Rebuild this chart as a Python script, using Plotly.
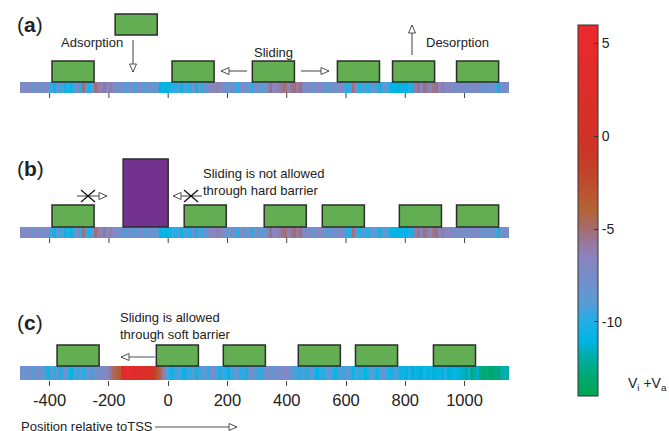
import plotly.graph_objects as go

W, H = 669, 431

# ---------------- data ----------------
bin_start = -500
bin_size = 10
tick_vals = [-400, -200, 0, 200, 400, 600, 800, 1000]
tick_text = ["-400", "-200", "0", "200", "400", "600", "800", "1000"]

# Vi + Va along the DNA (10 bp bins, -500 .. 1150), panels (a) and (b)
energy_ab = [
    -7, -8, -6.5, -7.5, -8, -6.8, -7.2, -8.5, -7, -7.8,
    -9.5, -10.5, -9, -10, -8, -10.5, -9.5, -11, -9, -7.5, -10, -5.2, -9.5, -10, -8.5,
    -5.2, -6, -6.5, -5.5, -7, -6, -6.8, -7.5,
    -8, -7, -9, -8.5, -7.5, -9.5, -8, -7, -8.5, -9, -7.5, -8, -9, -8.5,
    -11, -10.5, -11, -10.5,
    -9.5, -10, -8.5, -10.5, -9, -9.5, -10, -8, -10.5, -9, -9.5, -8.5,
    -7, -6.5, -7.5, -6, -7, -6.8,
    -8, -9, -7.5, -8.5, -9.5, -8, -7, -9, -8.5, -10, -8, -7.5, -9, -8, -7.5,
    -5.2, -6.5, -7, -6, -5.5, -5.2, -6.5, -5.5, -5, -6, -5.2,
    -7, -8, -6.5, -7.5, -8.5, -7, -6.5, -8, -7.5, -9, -7, -8, -7.5, -6.8,
    -9, -10, -9.5, -5.3,
    -9, -10, -8.5, -9.5, -10, -9, -8, -9.5, -10.5, -9, -8.5, -9.5,
    -11, -10.5, -11, -11, -10.5, -11, -10, -10.5,
    -6, -5.5, -6.5, -5.2, -6, -7, -5.5, -5.2, -6.5, -6, -7, -6.5,
    -7, -7.5, -8, -6.5, -7, -8.5, -7.5, -6.8, -8, -7, -7.5, -8.5, -7, -8, -7.5, -9, -10.5, -8, -7, -7.5,
]

# panel (c): soft barrier near the TSS
energy_c = [
    -8, -7.5, -8.5, -7, -9, -8, -7.5, -8.5,
    -9.5, -10.5, -9, -10, -8.5, -10.5, -9.5, -8, -10, -11, -9, -9.5, -8.5, -10, -9, -8, -9.5, -7.5, -8, -7, -7.5, -6.5,
    -5.5, -4.8, -4, -3.5,
    3, 4, 4.5, 4, 3.5, 3, 2.5, 2, 1.5, 1,
    0, -1.5, -3, -4.5, -6,
    -9, -10, -10.5, -9.5, -8.5, -10, -11, -9.5, -10, -9, -10.5, -9.5, -8.5, -9, -10, -7.5, -8,
    -9.5, -10.5, -9, -10, -11, -9.5, -9, -8.5, -10, -9.5, -10.5, -8, -7.5, -9, -10, -9.5,
    -7.5, -8, -7, -8.5, -7, -7.5, -8, -6.8, -7.5, -8.5, -9,
    -9.5, -10, -9, -10.5, -9.5, -8.5, -10, -11, -9.5, -10, -9, -8.5, -10, -10.5, -9.5, -9, -10, -8.5,
    -9.5, -10.5, -9, -10, -9.5, -11, -10, -9, -9.5, -10.5, -9, -8.5, -9.5, -10, -10.5, -9, -9.5, -10.5,
    -10.5, -11, -10, -11.2, -10.5, -11, -11.2, -10, -11, -10.5, -11.2, -11, -10.5, -11, -10, -11.2, -11, -10.5, -11, -11.3,
    -11.5, -12, -11, -12.5, -12, -11.5, -12.5, -13, -12.5, -13, -13.5, -12.5, -13, -12, -11.5, -12,
]

nuc_len = 142
nuc_a = [-392, 13, 284, 571, 757, 973]
nuc_a_free = [-179]
nuc_b = [-392, 54, 324, 520, 780, 973]
barrier_b = [-152, 0]
nuc_c = [-375, -40, 186, 439, 632, 895]

cbar_ticks = [5, 0, -5, -10]
cbar_text = ["5", "0", "-5", "-10"]
zmin, zmax = -14, 6

# ---------------- styling ----------------
colorscale = [
    [0.00, "rgb(0,166,81)"],
    [0.05, "rgb(0,168,112)"],
    [0.10, "rgb(0,172,160)"],
    [0.15, "rgb(0,180,228)"],
    [0.20, "rgb(30,176,230)"],
    [0.25, "rgb(88,156,212)"],
    [0.30, "rgb(110,146,205)"],
    [0.375, "rgb(138,132,192)"],
    [0.425, "rgb(155,116,142)"],
    [0.45, "rgb(165,108,110)"],
    [0.50, "rgb(178,100,55)"],
    [0.575, "rgb(190,75,45)"],
    [0.65, "rgb(200,55,40)"],
    [0.70, "rgb(210,50,40)"],
    [1.00, "rgb(236,40,45)"],
]
GREEN = "rgb(99,173,83)"
PURPLE = "rgb(116,50,143)"
EDGE = "rgb(45,45,45)"
ARROW = "rgb(80,80,80)"
TXT = "#222"
FONT = "Liberation Sans, Arial, Helvetica, sans-serif"

x_edges = [bin_start + bin_size * i for i in range(len(energy_ab) + 1)]

strips = {"a": (82, 93), "b": (227, 238), "c": (366, 380)}

fig = go.Figure()
for key, z in (("a", energy_ab), ("b", energy_ab), ("c", energy_c)):
    y0, y1 = strips[key]
    fig.add_trace(go.Heatmap(
        x=x_edges, y=[y0, y1], z=[z], zmin=zmin, zmax=zmax,
        colorscale=colorscale, showscale=(key == "a"), hoverinfo="skip",
        colorbar=dict(
            x=578 / W, xanchor="left", y=1 - 210.5 / H, yanchor="middle",
            thickness=20, thicknessmode="pixels", len=371, lenmode="pixels",
            outlinewidth=1, outlinecolor="#333", tickvals=cbar_ticks, ticktext=cbar_text,
            ticks="inside", ticklen=4, tickcolor="#333",
            tickfont=dict(size=14, color=TXT, family=FONT), xpad=0, ypad=0,
        ) if key == "a" else None,
    ))

shapes = []


def box(x0, x1, y0, y1, color):
    shapes.append(dict(type="rect", xref="x", yref="y", x0=x0, x1=x1, y0=y0, y1=y1,
                       fillcolor=color, line=dict(color=EDGE, width=1.5), layer="above"))


for s in nuc_a:
    box(s, s + nuc_len, 61, strips["a"][0], GREEN)
for s in nuc_a_free:
    box(s, s + nuc_len, 14, 35, GREEN)
for s in nuc_b:
    box(s, s + nuc_len, 205, strips["b"][0], GREEN)
box(barrier_b[0], barrier_b[1], 159, strips["b"][0], PURPLE)
for s in nuc_c:
    box(s, s + nuc_len, 345, strips["c"][0], GREEN)

# tick marks below strips (a) and (b)
for key in ("a", "b"):
    yb = strips[key][1]
    for v in tick_vals:
        shapes.append(dict(type="line", xref="x", yref="y", x0=v, x1=v, y0=yb, y1=yb + 5,
                           line=dict(color="#444", width=1)))


def px(x):
    return x / W


def arrow(x1, y1, x2, y2, head=8, half=3.5):
    shapes.append(dict(type="line", xref="paper", yref="y", x0=px(x1), x1=px(x2), y0=y1, y1=y2,
                       line=dict(color=ARROW, width=1.1)))
    dx, dy = x2 - x1, y2 - y1
    n = (dx * dx + dy * dy) ** 0.5
    ux, uy = dx / n, dy / n
    bx, by = x2 - ux * head, y2 - uy * head
    p1 = (bx - uy * half, by + ux * half)
    p2 = (bx + uy * half, by - ux * half)
    path = "M {} {} L {} {} L {} {} Z".format(px(x2), y2, px(p1[0]), p1[1], px(p2[0]), p2[1])
    shapes.append(dict(type="path", xref="paper", yref="y", path=path, fillcolor="white",
                       line=dict(color=ARROW, width=1)))


def cross(x, y, sx=7, sy=6):
    for sgn in (1, -1):
        shapes.append(dict(type="line", xref="paper", yref="y", x0=px(x - sx), x1=px(x + sx),
                           y0=y - sgn * sy, y1=y + sgn * sy, line=dict(color="#111", width=1.3)))


arrow(133, 40, 133, 72)
arrow(247, 71, 221, 71)
arrow(301, 71, 329, 71)
arrow(412, 55, 412, 25)
arrow(77, 196, 107, 196)
cross(88, 196)
arrow(202, 196, 173, 196)
cross(191, 196)
arrow(155, 357, 121, 357)
arrow(155, 427, 237, 427)

# colorbar left-side ticks
for v in cbar_ticks:
    yy = 25 + (zmax - v) / (zmax - zmin) * 371
    shapes.append(dict(type="line", xref="paper", yref="y", x0=px(578), x1=px(582), y0=yy, y1=yy,
                       line=dict(color="#333", width=1)))

annotations = []


def label(text, x, y, size=13, xanchor="left", align="left"):
    annotations.append(dict(text=text, x=px(x), y=y, xref="paper", yref="y", showarrow=False,
                            xanchor=xanchor, yanchor="middle", align=align,
                            font=dict(size=size, color=TXT, family=FONT)))


label("(<b>a</b>)", 15, 24, size=21)
label("(<b>b</b>)", 15, 168, size=21)
label("(<b>c</b>)", 15, 322, size=21)
label("Adsorption", 59, 42)
label("Sliding", 252, 52)
label("Desorption", 424, 42)
label("Sliding is not allowed<br>through hard barrier", 201, 181.5)
label("Sliding is allowed<br>through soft barrier", 118, 326)
label("Position relative toTSS", 19, 426)
label("V<sub>i</sub> +V<sub>a</sub>", 626, 384, size=14)

fig.update_layout(
    width=W, height=H, margin=dict(l=0, r=0, t=0, b=0),
    paper_bgcolor="white", plot_bgcolor="white",
    showlegend=False, shapes=shapes, annotations=annotations,
    xaxis=dict(domain=[20 / W, 509 / W], range=[-500, 1150], showgrid=False, zeroline=False,
               showline=False, ticks="outside", ticklen=5, tickcolor="#444",
               tickvals=tick_vals, ticktext=tick_text, anchor="free", position=1 - 380 / H,
               tickfont=dict(size=16.5, color=TXT, family=FONT)),
    yaxis=dict(domain=[0, 1], range=[H, 0], visible=False, showgrid=False, zeroline=False),
)

fig.write_html("out.html", config={"displayModeBar": False},
               post_script="document.body.style.margin='0px';")
